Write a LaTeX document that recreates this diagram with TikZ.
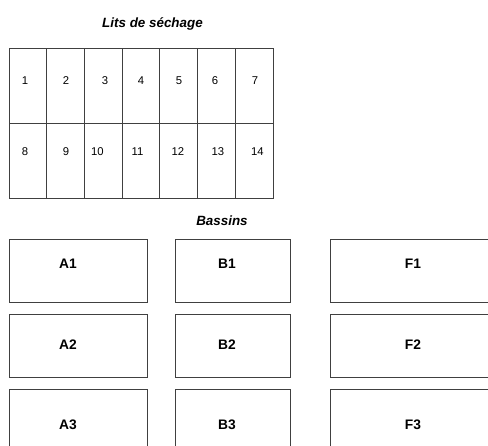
\documentclass[tikz,border=0pt]{standalone}
\usepackage{fontspec}
\setmainfont{Liberation Sans}
\begin{document}
\begin{tikzpicture}[x=1pt,y=-1pt,
  cellbox/.style={draw=black!75, line width=0.9pt, rectangle, minimum width=37.7pt, minimum height=75pt, inner sep=0pt},
  basin/.style={draw=black!75, line width=0.9pt, rectangle, inner sep=0pt},
  num/.style={font=\fontsize{11.3}{13}\selectfont, inner sep=0pt},
  blabel/.style={font=\fontsize{13.8}{16}\selectfont\bfseries, inner sep=0pt},
  heading/.style={font=\fontsize{13.4}{16}\selectfont\bfseries\itshape, inner sep=0pt}]
\clip (0,0) rectangle (488,446);
\fill[white] (0,0) rectangle (488,446);
% heading
\node[heading] (t1) at (152.5,24) {Lits de séchage};
% cells
\foreach \i in {1,...,7}{
  \pgfmathsetmacro{\cx}{9+37.714*(\i-0.5)}
  \node[cellbox] (c\i) at (\cx,85.5) {};
}
\foreach \i in {8,...,14}{
  \pgfmathsetmacro{\cx}{9+37.714*(\i-7-0.5)}
  \node[cellbox] (c\i) at (\cx,160.5) {};
}
\node[num] (n1) at (25,81) {1};
\node[num] (n2) at (66,81) {2};
\node[num] (n3) at (105,81) {3};
\node[num] (n4) at (141,81) {4};
\node[num] (n5) at (179,81) {5};
\node[num] (n6) at (215,81) {6};
\node[num] (n7) at (255,81) {7};
\node[num] (n8) at (25,152) {8};
\node[num] (n9) at (66,152) {9};
\node[num] (n10) at (97.5,152) {10};
\node[num] (n11) at (137.5,152) {11};
\node[num] (n12) at (178,152) {12};
\node[num] (n13) at (218,152) {13};
\node[num] (n14) at (257.5,152) {14};
% basins
\node[heading] (t2) at (222,221) {Bassins};
\foreach \r/\top in {1/239,2/314,3/389}{
  \node[basin, minimum width=138pt, minimum height=63pt] (A\r) at (78,\top+31.5) {};
  \node[basin, minimum width=115pt, minimum height=63pt] (B\r) at (232.5,\top+31.5) {};
  \node[basin, minimum width=162pt, minimum height=63pt] (F\r) at (411,\top+31.5) {};
}
\node[blabel] (lA1) at (68,264) {A1};
\node[blabel] (lB1) at (227,264) {B1};
\node[blabel] (lF1) at (413,264) {F1};
\node[blabel] (lA2) at (68,345) {A2};
\node[blabel] (lB2) at (227,345) {B2};
\node[blabel] (lF2) at (413,345) {F2};
\node[blabel] (lA3) at (68,425) {A3};
\node[blabel] (lB3) at (227,425) {B3};
\node[blabel] (lF3) at (413,425) {F3};
\end{tikzpicture}
\end{document}
